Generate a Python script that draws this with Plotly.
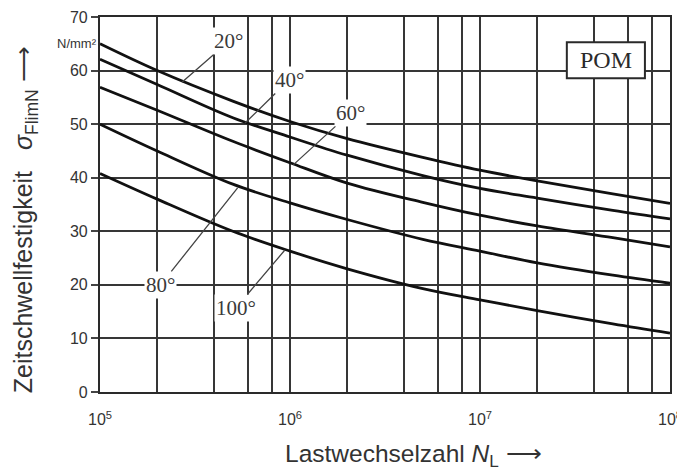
import math
import plotly.graph_objects as go

# ---- data ----
N = [1e5, 2e5, 5e5, 1e6, 2e6, 5e6, 1e7, 2e7, 5e7, 1e8]
s20 = [65.0, 60.0, 54.3, 50.5, 47.3, 43.8, 41.4, 39.4, 37.0, 35.2]
s40 = [62.1, 57.4, 51.2, 47.6, 44.2, 40.4, 38.0, 36.2, 33.9, 32.3]
s60 = [56.9, 52.6, 46.8, 42.8, 39.0, 35.4, 33.0, 31.0, 28.8, 27.1]
s80 = [50.0, 45.0, 38.8, 35.3, 32.2, 28.5, 26.3, 24.1, 21.8, 20.3]
s100 = [40.8, 36.0, 30.0, 26.3, 23.0, 19.3, 17.2, 15.2, 12.7, 11.0]
series = [s20, s40, s60, s80, s100]
temp_labels = ["20°", "40°", "60°", "80°", "100°"]

# grid lines of the log axis and their labels
x_grid = [1e5, 2e5, 4e5, 6e5, 8e5, 1e6, 2e6, 4e6, 6e6, 8e6,
          1e7, 2e7, 4e7, 6e7, 8e7, 1e8]
x_grid_text = ["10<sup>5</sup>", "", "", "", "", "10<sup>6</sup>", "", "", "", "",
               "10<sup>7</sup>", "", "", "", "", "10<sup>8</sup>"]
y_ticks = [0, 10, 20, 30, 40, 50, 60, 70]

# label leader-line anchor points on the curves (data coords) and text offsets (px)
label_anchor_x = [2.70e5, 5.8e5, 1.04e6, 5.3e5, 9.4e5]
label_anchor_y = [57.8, 50.2, 42.4, 38.1, 26.5]
label_dx = [47, 44, 57, -77, -49]
label_dy = [-41, -43, -52, 97, 58]

TXT = "#333333"
GRID = "#363636"
SANS = "Liberation Sans, Arial, sans-serif"
SERIF = "Liberation Serif, Times New Roman, serif"

fig = go.Figure()
for s in series:
    fig.add_trace(go.Scatter(x=N, y=s, mode="lines",
                             line=dict(color="#111111", width=2.8, shape="spline", smoothing=1.0),
                             showlegend=False, hoverinfo="skip"))

annotations = []
for t, ax_, ay_, dx, dy in zip(temp_labels, label_anchor_x, label_anchor_y, label_dx, label_dy):
    annotations.append(dict(x=math.log10(ax_), y=ay_, xref="x", yref="y", text=t,
                            showarrow=True, arrowhead=0, arrowwidth=1.3, arrowcolor="#444444",
                            ax=dx, ay=dy, standoff=0, bgcolor="white", borderpad=1,
                            xanchor="center", yanchor="middle",
                            font=dict(family=SERIF, size=21, color="#3a3a3a")))

# POM label
annotations.append(dict(x=0.8875, y=0.885, xref="paper", yref="paper", text="POM",
                        xanchor="center", yanchor="middle",
                        showarrow=False, font=dict(family=SERIF, size=24, color="#2a2a2a")))
# unit
annotations.append(dict(x=0, y=65, xref="paper", yref="y", text="N/mm²", xanchor="right",
                        yanchor="middle", xshift=-1, showarrow=False,
                        font=dict(family=SANS, size=13, color=TXT)))
# axis titles
annotations.append(dict(x=0.321, y=-0.168, xref="paper", yref="paper", xanchor="left",
                        yanchor="middle",
                        text="Lastwechselzahl <i>N</i><sub>L</sub> \u27f6",
                        showarrow=False, font=dict(family=SANS, size=24.5, color=TXT)))
annotations.append(dict(x=-0.132, y=0.46, xref="paper", yref="paper", textangle=-90,
                        xanchor="center", yanchor="middle",
                        text="Zeitschwellfestigkeit\u00a0\u00a0 <i>σ</i><sub>FlimN</sub> \u27f6",
                        showarrow=False, font=dict(family=SANS, size=25, color=TXT)))

shapes = [dict(type="rect", xref="paper", yref="paper", x0=0.819, x1=0.956, y0=0.837, y1=0.933,
               line=dict(color="#2a2a2a", width=2), fillcolor="white", layer="above")]

# page body has an 8px margin: plot area should land at x 100..670, y 17..392 in the window
fig.update_layout(
    width=685, height=471, margin=dict(l=92, r=23, t=9, b=87),
    paper_bgcolor="white", plot_bgcolor="white", template="none",
    annotations=annotations, shapes=shapes,
    xaxis=dict(type="log", range=[5, 8], tickvals=x_grid, ticktext=x_grid_text,
               showgrid=True, gridcolor=GRID, gridwidth=1.9, zeroline=False,
               showline=True, linecolor="#2a2a2a", linewidth=2.2, mirror=True,
               ticks="", ticklabelstandoff=12,
               tickfont=dict(family=SANS, size=16, color=TXT)),
    yaxis=dict(range=[0, 70], tickvals=y_ticks, showgrid=True, gridcolor=GRID, gridwidth=1.9,
               zeroline=False, showline=True, linecolor="#2a2a2a", linewidth=2.2, mirror=True,
               ticks="outside", ticklen=7, tickwidth=1.5, tickcolor="#444444",
               tickfont=dict(family=SANS, size=16, color=TXT)),
)

fig.write_html("out.html")
